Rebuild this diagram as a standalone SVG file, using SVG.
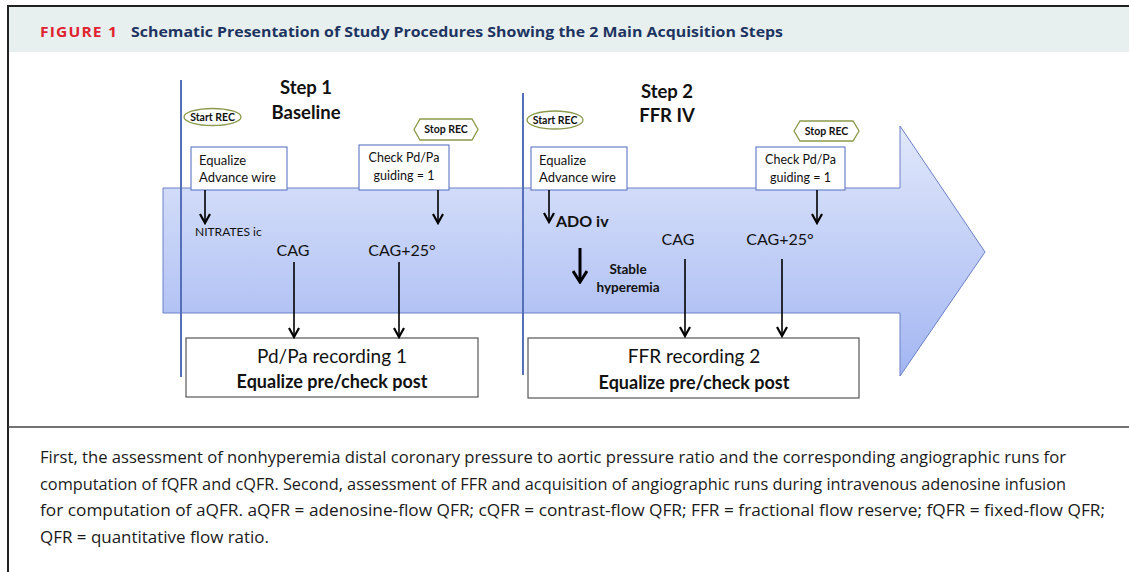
<svg xmlns="http://www.w3.org/2000/svg" width="1129" height="572" viewBox="0 0 1129 572">
<style>
.d{font-family:Lato,"Open Sans","Liberation Sans",sans-serif;fill:#111}
.b{font-weight:bold}
.box{fill:#fff;stroke:#6a80c8;stroke-width:1.2}
.rec{fill:#fff;stroke:#555;stroke-width:1.2}
.grn{fill:#fff;stroke:#8a9a4a;stroke-width:1.3}
.vl{stroke:#5570b8;stroke-width:2}
.ar{stroke:#000;stroke-width:1.6;fill:none;marker-end:url(#ah)}
.cap{font-family:"Open Sans","Liberation Sans",sans-serif;font-size:15.5px;fill:#1a1a1a}
</style>
<defs>
<linearGradient id="g" x1="0" y1="0" x2="0" y2="1">
<stop offset="0" stop-color="#e1e8fb"/>
<stop offset="1" stop-color="#a3b6f2"/>
</linearGradient>
<marker id="ah" markerUnits="userSpaceOnUse" markerWidth="12" markerHeight="12" refX="10" refY="6" orient="auto">
<path d="M1,1 L10,6 L1,11" fill="none" stroke="#000" stroke-width="2.2"/>
</marker>
<marker id="ah2" markerUnits="userSpaceOnUse" markerWidth="14" markerHeight="16" refX="12" refY="8" orient="auto">
<path d="M1,1 L12,8 L1,15" fill="none" stroke="#000" stroke-width="3"/>
</marker>
</defs>
<rect x="0" y="0" width="1129" height="572" fill="#fff"/>
<g id="frame">
<rect x="9" y="7" width="1120" height="45" fill="#e8f0ef"/>
<line x1="8" y1="6" x2="1129" y2="6" stroke="#222" stroke-width="2"/>
<line x1="8" y1="5" x2="8" y2="572" stroke="#222" stroke-width="2"/>
<line x1="8" y1="427" x2="1129" y2="427" stroke="#444" stroke-width="1.5"/>
<text x="40" y="37" font-family="'Open Sans','Liberation Sans',sans-serif" font-weight="bold" font-size="13.5" fill="#e0222f" letter-spacing="1" textLength="78" lengthAdjust="spacingAndGlyphs">FIGURE 1</text>
<text x="131" y="37" font-family="'Open Sans','Liberation Sans',sans-serif" font-weight="bold" font-size="15" fill="#1d3461" textLength="652" lengthAdjust="spacingAndGlyphs">Schematic Presentation of Study Procedures Showing the 2 Main Acquisition Steps</text>
</g>
<g id="bigArrow">
<path d="M163,188 L900,188 L900,126 L985,252 L900,376 L900,313 L163,313 Z" fill="url(#g)" stroke="#6a80c8" stroke-width="1"/>
</g>
<g id="step1">
<line class="vl" x1="181" y1="80" x2="181" y2="377"/>
<text class="d b" x="306" y="94" font-size="18.5" text-anchor="middle">Step 1</text>
<text class="d b" x="306" y="119" font-size="18.5" text-anchor="middle">Baseline</text>
</g>
<g id="startRec1">
<ellipse class="grn" cx="212.5" cy="117" rx="28.5" ry="8.5"/>
<text class="d b" x="212.5" y="120.5" font-size="10.5" text-anchor="middle">Start REC</text>
</g>
<g id="stopRec1">
<polygon class="grn" points="414,129.5 420,119 472,119 478,129.5 472,140 420,140"/>
<text class="d b" x="446" y="133" font-size="10.5" text-anchor="middle">Stop REC</text>
</g>
<g id="equalize1">
<rect class="box" x="191" y="147" width="96" height="43"/>
<text class="d" x="199" y="165" font-size="13">Equalize</text>
<text class="d" x="199" y="182" font-size="13">Advance wire</text>
</g>
<g id="check1">
<rect class="box" x="359" y="145" width="90" height="45"/>
<text class="d" x="404" y="162" font-size="12.5" text-anchor="middle">Check Pd/Pa</text>
<text class="d" x="404" y="180" font-size="12.5" text-anchor="middle">guiding = 1</text>
</g>
<g id="nitrates">
<text class="d" x="195" y="236" font-size="12">NITRATES ic</text>
</g>
<g id="cag1"><text class="d" x="293" y="256" font-size="16" text-anchor="middle">CAG</text></g>
<g id="cag25_1"><text class="d" x="402" y="256" font-size="16" text-anchor="middle">CAG+25°</text></g>
<g id="recording1">
<rect class="rec" x="186" y="338" width="292" height="59"/>
<text class="d" x="332" y="363" font-size="19" text-anchor="middle">Pd/Pa recording 1</text>
<text class="d b" x="332" y="388" font-size="18" text-anchor="middle">Equalize pre/check post</text>
</g>
<g id="step2">
<line class="vl" x1="523" y1="93" x2="523" y2="375"/>
<text class="d b" x="667" y="98" font-size="18.5" text-anchor="middle">Step 2</text>
<text class="d b" x="667" y="122" font-size="18.5" text-anchor="middle">FFR IV</text>
</g>
<g id="startRec2">
<ellipse class="grn" cx="555" cy="120" rx="28" ry="9"/>
<text class="d b" x="555" y="123.5" font-size="10.5" text-anchor="middle">Start REC</text>
</g>
<g id="stopRec2">
<polygon class="grn" points="794,131 800,121 853,121 859,131 853,141 800,141"/>
<text class="d b" x="826.5" y="134.5" font-size="10.5" text-anchor="middle">Stop REC</text>
</g>
<g id="equalize2">
<rect class="box" x="531" y="147" width="96" height="43"/>
<text class="d" x="539" y="165" font-size="13">Equalize</text>
<text class="d" x="539" y="182" font-size="13">Advance wire</text>
</g>
<g id="check2">
<rect class="box" x="756" y="147" width="89" height="43"/>
<text class="d" x="800.5" y="164" font-size="12.5" text-anchor="middle">Check Pd/Pa</text>
<text class="d" x="800.5" y="182" font-size="12.5" text-anchor="middle">guiding = 1</text>
</g>
<g id="ado"><text class="d b" x="556" y="227" font-size="16">ADO iv</text></g>
<g id="cag2"><text class="d" x="678" y="245" font-size="16" text-anchor="middle">CAG</text></g>
<g id="cag25_2"><text class="d" x="780" y="245" font-size="16" text-anchor="middle">CAG+25°</text></g>
<g id="stable">
<text class="d b" x="628" y="274" font-size="13.5" text-anchor="middle">Stable</text>
<text class="d b" x="628" y="292" font-size="13.5" text-anchor="middle">hyperemia</text>
</g>
<g id="recording2">
<rect class="rec" x="528" y="338" width="331" height="60"/>
<text class="d" x="694" y="363" font-size="19" text-anchor="middle">FFR recording 2</text>
<text class="d b" x="694" y="389" font-size="18" text-anchor="middle">Equalize pre/check post</text>
</g>
<g id="connectors">
<line class="ar" x1="205" y1="190" x2="205" y2="223"/>
<line class="ar" x1="438" y1="190" x2="438" y2="223"/>
<line class="ar" x1="294" y1="262" x2="294" y2="337"/>
<line class="ar" x1="399" y1="262" x2="399" y2="337"/>
<line class="ar" x1="549" y1="190" x2="549" y2="222"/>
<line class="ar" x1="817" y1="190" x2="817" y2="223"/>
<line x1="580" y1="248" x2="580" y2="282" stroke="#000" stroke-width="3" marker-end="url(#ah2)"/>
<line class="ar" x1="685" y1="259" x2="685" y2="336"/>
<line class="ar" x1="782" y1="259" x2="782" y2="336"/>
</g>
<g id="caption">
<text class="cap" x="40" y="463" textLength="1026" lengthAdjust="spacingAndGlyphs">First, the assessment of nonhyperemia distal coronary pressure to aortic pressure ratio and the corresponding angiographic runs for</text>
<text class="cap" x="40" y="490" textLength="1026" lengthAdjust="spacingAndGlyphs">computation of fQFR and cQFR. Second, assessment of FFR and acquisition of angiographic runs during intravenous adenosine infusion</text>
<text class="cap" x="40" y="516" textLength="1065" lengthAdjust="spacingAndGlyphs">for computation of aQFR. aQFR = adenosine-flow QFR; cQFR = contrast-flow QFR; FFR = fractional flow reserve; fQFR = fixed-flow QFR;</text>
<text class="cap" x="40" y="543" textLength="229" lengthAdjust="spacingAndGlyphs">QFR = quantitative flow ratio.</text>
</g>
</svg>
